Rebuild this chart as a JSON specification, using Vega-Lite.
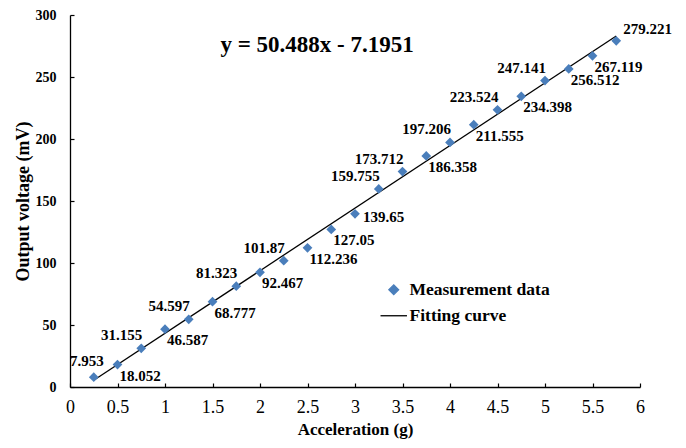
{
  "$schema": "https://vega.github.io/schema/vega-lite/v6.json",
  "autosize": "none",
  "padding": {"left": 70, "top": 15, "right": 46, "bottom": 61},
  "width": 570,
  "height": 372,
  "background": "white",
  "config": {
    "view": {"stroke": null},
    "font": "Liberation Serif",
    "text": {"font": "Liberation Serif"},
    "legend": {"labelFont": "Liberation Serif"},
    "axis": {
      "grid": false,
      "domainColor": "black",
      "domainWidth": 1.3,
      "tickColor": "black",
      "tickWidth": 1.2,
      "labelColor": "black",
      "titleColor": "black"
    }
  },
  "datasets": {
    "measurements": [
      {"acc": 0.25, "volt": 7.953},
      {"acc": 0.5, "volt": 18.052},
      {"acc": 0.75, "volt": 31.155},
      {"acc": 1.0, "volt": 46.587},
      {"acc": 1.25, "volt": 54.597},
      {"acc": 1.5, "volt": 68.777},
      {"acc": 1.75, "volt": 81.323},
      {"acc": 2.0, "volt": 92.467},
      {"acc": 2.25, "volt": 101.87},
      {"acc": 2.5, "volt": 112.236},
      {"acc": 2.75, "volt": 127.05},
      {"acc": 3.0, "volt": 139.65},
      {"acc": 3.25, "volt": 159.755},
      {"acc": 3.5, "volt": 173.712},
      {"acc": 3.75, "volt": 186.358},
      {"acc": 4.0, "volt": 197.206},
      {"acc": 4.25, "volt": 211.555},
      {"acc": 4.5, "volt": 223.524},
      {"acc": 4.75, "volt": 234.398},
      {"acc": 5.0, "volt": 247.141},
      {"acc": 5.25, "volt": 256.512},
      {"acc": 5.5, "volt": 267.119},
      {"acc": 5.75, "volt": 279.221}
    ],
    "fit": [
      {"equation": "y = 50.488x - 7.1951"}
    ]
  },
  "layer": [
    {
      "data": {"name": "measurements"},
      "transform": [{"regression": "volt", "on": "acc", "method": "linear"}],
      "mark": {"type": "line", "strokeWidth": 1.3},
      "encoding": {
        "x": {
          "field": "acc",
          "type": "quantitative",
          "title": "Acceleration (g)",
          "scale": {"domain": [0, 6], "nice": false, "zero": false},
          "axis": {
            "values": [0, 0.5, 1, 1.5, 2, 2.5, 3, 3.5, 4, 4.5, 5, 5.5, 6],
            "format": "~g",
            "tickSize": -4,
            "labelPadding": 15,
            "labelFont": "Liberation Serif",
            "labelFontSize": 18,
            "labelFontWeight": "normal",
            "labelFlush": false,
            "titleFont": "Liberation Serif",
            "titleFontSize": 17,
            "titleFontWeight": "bold",
            "titlePadding": 5
          }
        },
        "y": {
          "field": "volt",
          "type": "quantitative",
          "title": "Output voltage (mV)",
          "scale": {"domain": [0, 300], "nice": false},
          "axis": {
            "values": [0, 25, 50, 75, 100, 125, 150, 175, 200, 225, 250, 275, 300],
            "labelExpr": "datum.value % 50 === 0 ? datum.label : ''",
            "tickSize": -4,
            "labelPadding": 18,
            "labelFont": "Liberation Serif",
            "labelFontSize": 14,
            "labelFontWeight": "bold",
            "labelFlush": false,
            "titleFont": "Liberation Serif",
            "titleFontSize": 18,
            "titleFontWeight": "bold",
            "titlePadding": 3
          }
        },
        "color": {
          "datum": "Fitting curve",
          "scale": {"domain": ["Measurement data", "Fitting curve"], "range": ["#4A7EBB", "black"]},
          "legend": {
            "title": null,
            "orient": "none",
            "legendX": 315,
            "legendY": 266,
            "labelFont": "Liberation Serif",
            "labelFontWeight": "bold",
            "labelFontSize": 17.5,
            "labelColor": "black",
            "symbolSize": 100,
            "symbolStrokeWidth": 1.3,
            "rowPadding": 7,
            "labelOffset": 7,
            "encode": {
              "symbols": {
                "update": {
                  "size": {"signal": "datum.value === 'Fitting curve' ? 700 : 95"}
                }
              }
            }
          }
        },
        "shape": {
          "datum": "Fitting curve",
          "scale": {"domain": ["Measurement data", "Fitting curve"], "range": ["diamond", "stroke"]},
          "legend": {"title": null}
        }
      }
    },
    {
      "data": {"name": "measurements"},
      "mark": {"type": "point", "filled": true, "size": 95, "opacity": 1},
      "encoding": {
        "x": {"field": "acc", "type": "quantitative"},
        "y": {"field": "volt", "type": "quantitative"},
        "color": {"datum": "Measurement data"},
        "shape": {"datum": "Measurement data"}
      }
    },
    {
      "data": {"name": "measurements"},
      "transform": [{"filter": {"field": "acc", "oneOf": [0.75, 1.25, 1.75, 2.25, 3.25, 3.5, 4.0, 4.5, 5.0]}}],
      "mark": {"type": "text", "font": "Liberation Serif", "align": "right", "baseline": "bottom", "dx": 1, "dy": -5, "fontSize": 15, "fontWeight": "bold", "color": "black"},
      "encoding": {
        "x": {"field": "acc", "type": "quantitative"},
        "y": {"field": "volt", "type": "quantitative"},
        "text": {"field": "volt", "type": "quantitative"}
      }
    },
    {
      "data": {"name": "measurements"},
      "transform": [{"filter": {"field": "acc", "oneOf": [0.5, 1.0, 1.5, 2.0, 2.5, 2.75, 3.75, 4.25, 4.75, 5.25, 5.5]}}],
      "mark": {"type": "text", "font": "Liberation Serif", "align": "left", "baseline": "top", "dx": 2, "dy": 4, "fontSize": 15, "fontWeight": "bold", "color": "black"},
      "encoding": {
        "x": {"field": "acc", "type": "quantitative"},
        "y": {"field": "volt", "type": "quantitative"},
        "text": {"field": "volt", "type": "quantitative"}
      }
    },
    {
      "data": {"name": "measurements"},
      "transform": [{"filter": {"field": "acc", "oneOf": [3.0]}}],
      "mark": {"type": "text", "font": "Liberation Serif", "align": "left", "baseline": "middle", "dx": 8, "dy": 3, "fontSize": 15, "fontWeight": "bold", "color": "black"},
      "encoding": {
        "x": {"field": "acc", "type": "quantitative"},
        "y": {"field": "volt", "type": "quantitative"},
        "text": {"field": "volt", "type": "quantitative"}
      }
    },
    {
      "data": {"name": "measurements"},
      "transform": [{"filter": {"field": "acc", "oneOf": [0.25]}}],
      "mark": {"type": "text", "font": "Liberation Serif", "align": "center", "baseline": "bottom", "dx": -7, "dy": -8, "fontSize": 15, "fontWeight": "bold", "color": "black"},
      "encoding": {
        "x": {"field": "acc", "type": "quantitative"},
        "y": {"field": "volt", "type": "quantitative"},
        "text": {"field": "volt", "type": "quantitative"}
      }
    },
    {
      "data": {"name": "measurements"},
      "transform": [{"filter": {"field": "acc", "oneOf": [5.75]}}],
      "mark": {"type": "text", "font": "Liberation Serif", "align": "left", "baseline": "bottom", "dx": 7, "dy": -4, "fontSize": 15, "fontWeight": "bold", "color": "black"},
      "encoding": {
        "x": {"field": "acc", "type": "quantitative"},
        "y": {"field": "volt", "type": "quantitative"},
        "text": {"field": "volt", "type": "quantitative"}
      }
    },
    {
      "data": {"name": "fit"},
      "mark": {"type": "text", "font": "Liberation Serif", "align": "center", "baseline": "middle", "fontSize": 23, "fontWeight": "bold", "color": "black"},
      "encoding": {
        "x": {"datum": 2.6, "type": "quantitative"},
        "y": {"datum": 276, "type": "quantitative"},
        "text": {"field": "equation", "type": "nominal"}
      }
    }
  ]
}
